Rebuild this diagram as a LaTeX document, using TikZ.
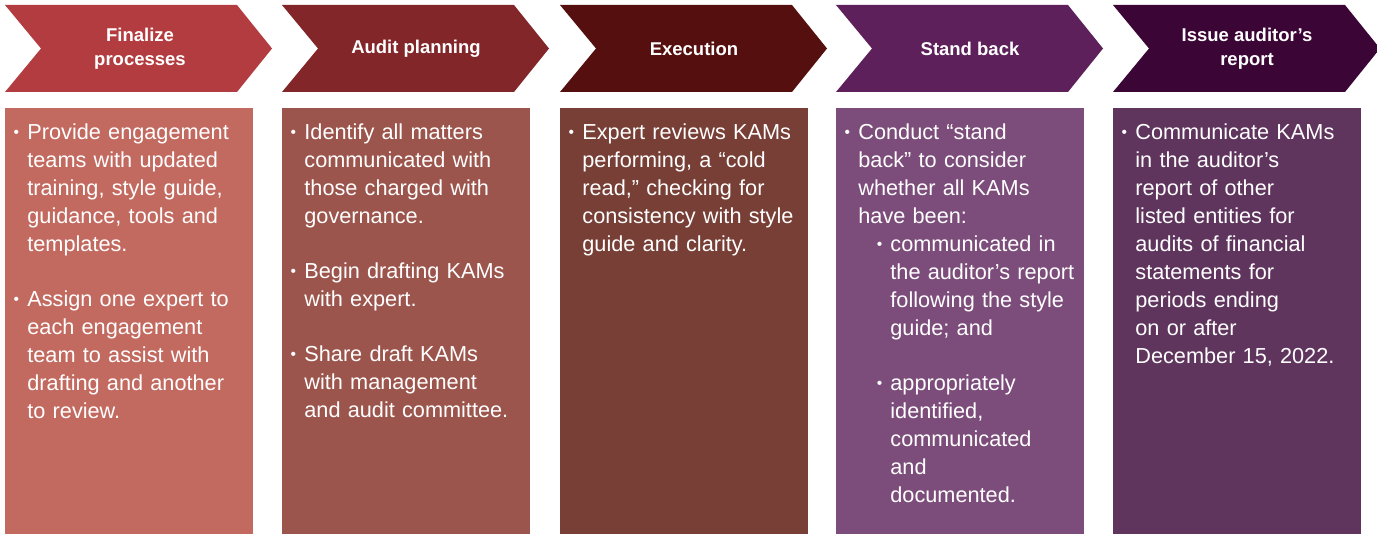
\documentclass[tikz,border=0pt]{standalone}
\usepackage{fontspec}
\setmainfont{Liberation Sans}

\definecolor{finalhead}{HTML}{B33C40}
\definecolor{finalbody}{HTML}{C36A60}
\definecolor{planhead}{HTML}{82262A}
\definecolor{planbody}{HTML}{9C554C}
\definecolor{exechead}{HTML}{540F0E}
\definecolor{execbody}{HTML}{773F36}
\definecolor{standhead}{HTML}{5E205B}
\definecolor{standbody}{HTML}{7C4D7A}
\definecolor{issuehead}{HTML}{3B0535}
\definecolor{issuebody}{HTML}{5F355E}

% small bullet set in front of a hanging paragraph
\newcommand{\kambullet}{\raisebox{1.3pt}{\fontsize{7.8}{7.8}\selectfont\textbullet}}
\newcommand{\kam}[1]{{\let\\\newline\noindent\hangindent=11pt\hangafter=0\llap{\kambullet\hspace{4.2pt}}#1\par}}
\newcommand{\kamsub}[1]{{\let\\\newline\noindent\hangindent=27pt\hangafter=0\llap{\kambullet\hspace{4pt}}#1\par}}
\newcommand{\kamgap}{\vspace{13.5pt}}

\begin{document}
\begin{tikzpicture}[x=0.5pt,y=-0.5pt,
    title/.style={text=white,font=\bfseries\fontsize{9.25}{12}\selectfont,align=center,inner sep=0pt},
    body/.style={text=white,font=\fontsize{10.85}{14}\selectfont,text width=121pt,align=left,inner sep=0pt,anchor=base west}]
    \useasboundingbox (0,0) rectangle (1377,534);

    % chevrons along the top
    \fill[finalhead] (5,5) -- (237,5) -- (272,48.5) -- (237,92) -- (5,92) -- (41,48.5) -- cycle;
    \fill[planhead] (282,5) -- (514,5) -- (549,48.5) -- (514,92) -- (282,92) -- (318,48.5) -- cycle;
    \fill[exechead] (560,5) -- (792,5) -- (827,48.5) -- (792,92) -- (560,92) -- (596,48.5) -- cycle;
    \fill[standhead] (836,5) -- (1068,5) -- (1103,48.5) -- (1068,92) -- (836,92) -- (872,48.5) -- cycle;
    \fill[issuehead] (1113,5) -- (1345,5) -- (1380,48.5) -- (1345,92) -- (1113,92) -- (1149,48.5) -- cycle;

    \node[title] (finalize) at (140,48.5) {Finalize\\processes};
    \node[title] (planning) at (416,48.5) {Audit planning};
    \node[title] (execution) at (694,48.5) {Execution};
    \node[title] (standback) at (970,48.5) {Stand back};
    \node[title] (issue) at (1247,48.5) {Issue auditor’s\\report};

    % boxes underneath
    \fill[finalbody] (5,108) rectangle (253,534);
    \fill[planbody] (282,108) rectangle (530,534);
    \fill[execbody] (560,108) rectangle (808,534);
    \fill[standbody] (836,108) rectangle (1084,534);
    \fill[issuebody] (1113,108) rectangle (1361,534);

    \node[body] (finalizetext) at (5,140) {%
        \kam{Provide engagement\\teams with updated\\training, style guide,\\guidance, tools and\\templates.}\kamgap
        \kam{Assign one expert to\\each engagement\\team to assist with\\drafting and another\\to review.}};
    \node[body] (planningtext) at (282,140) {%
        \kam{Identify all matters\\communicated with\\those charged with\\governance.}\kamgap
        \kam{Begin drafting KAMs\\with expert.}\kamgap
        \kam{Share draft KAMs\\with management\\and audit committee.}};
    \node[body] (executiontext) at (560,140) {%
        \kam{Expert reviews KAMs\\performing, a “cold\\read,” checking for\\consistency with style\\guide and clarity.}};
    \node[body] (standbacktext) at (836,140) {%
        \kam{Conduct “stand\\back” to consider\\whether all KAMs\\have been:}
        \kamsub{communicated in\\the auditor’s report\\following the style\\guide; and}\kamgap
        \kamsub{appropriately\\identified,\\communicated\\and\\documented.}};
    \node[body] (issuetext) at (1113,140) {%
        \kam{Communicate KAMs\\in the auditor’s\\report of other\\listed entities for\\audits of financial\\statements for\\periods ending\\on or after\\December 15, 2022.}};
\end{tikzpicture}
\end{document}
